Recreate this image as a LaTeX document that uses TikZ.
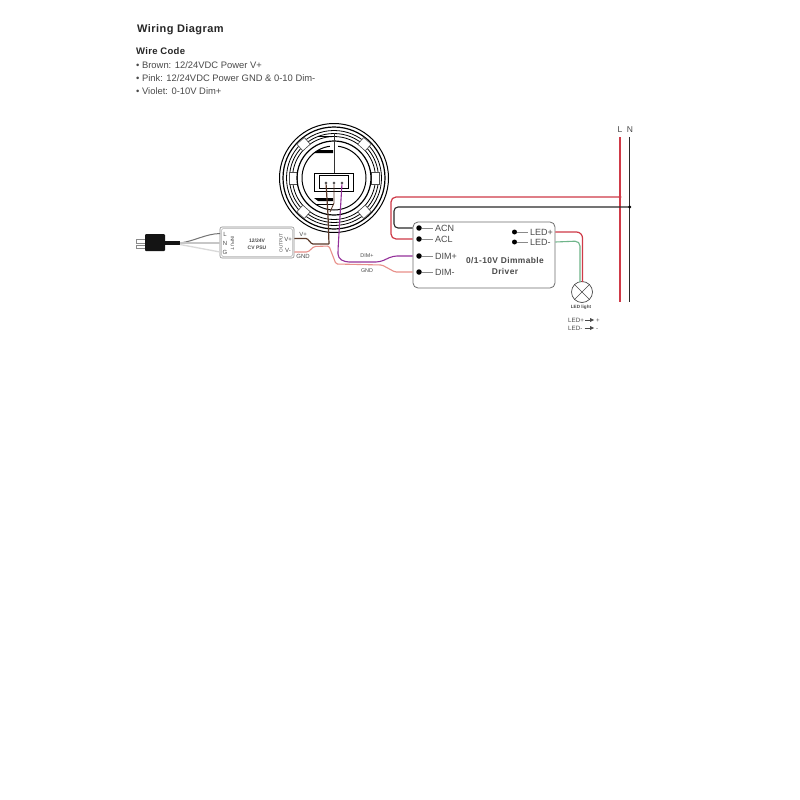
\documentclass[tikz,border=0pt]{standalone}
\usepackage{fontspec}
\setmainfont{Liberation Sans}
\definecolor{wred}{HTML}{CF3A48}
\definecolor{wblack}{HTML}{2A2A2A}
\definecolor{wbrown}{HTML}{5A3828}
\definecolor{wpink}{HTML}{E8908A}
\definecolor{wviolet}{HTML}{94309A}
\definecolor{wgreen}{HTML}{6FB58A}
\definecolor{tgray}{HTML}{4A4A4A}
\definecolor{boxgray}{HTML}{8A8A8A}
\tikzset{
  title/.style={anchor=base west,font=\bfseries\fontsize{11}{13}\selectfont\addfontfeatures{LetterSpace=4},text=black!85,inner sep=0pt},
  codeline/.style={anchor=base west,font=\fontsize{9.4}{11}\selectfont,text=tgray,inner sep=0pt},
  term/.style={circle,fill=black,inner sep=0pt,minimum size=5.5pt},
  termtext/.style={anchor=base west,font=\fontsize{9}{11}\selectfont,text=tgray,inner sep=0pt},
  small/.style={font=\fontsize{6}{7}\selectfont,text=tgray,inner sep=0pt},
  tiny/.style={font=\fontsize{4.6}{5.5}\selectfont,text=tgray,inner sep=0pt},
  lead/.style={draw=boxgray,line width=.6pt,shorten >=2pt},
  ring/.style={draw=black,line width=.8pt},
  wire/.style={line width=1.2pt,rounded corners=3pt},
}
\begin{document}
\begin{tikzpicture}[x=1pt,y=-1pt]
\useasboundingbox (0,0) rectangle (800,800);
\fill[white] (0,0) rectangle (800,800);
% texts
\node[title] (t1) at (137,33) {Wiring Diagram};
\node[title,font=\bfseries\fontsize{9.5}{11}\selectfont\addfontfeatures{LetterSpace=3}] (t2) at (136,55) {Wire Code};
\node[codeline] (c1) at (136,68.5) {• Brown: 12/24VDC Power V+};
\node[codeline] (c2) at (136,81.5) {• Pink: 12/24VDC Power GND \& 0-10 Dim-};
\node[codeline] (c3) at (136,94.5) {• Violet: 0-10V Dim+};
% device rings
\coordinate (cc) at (334,178);
\draw[line width=1pt] (cc) circle (54.5);
\draw[line width=1.2pt] (cc) circle (51);
\draw[ring] (cc) circle (47.5);
\draw[ring] (cc) circle (44.5);
\draw[ring] (cc) circle (41.5);
\foreach \a in {48,132,228,312}{
  \begin{scope}[shift={(cc)},rotate=\a]
    \draw[fill=white,draw=black!70,line width=.6pt] (41,-5) rectangle (50,5);
  \end{scope}}
\foreach \a in {0,180}{
  \begin{scope}[shift={(cc)},rotate=\a]
    \draw[fill=white,draw=black!70,line width=.6pt] (37,-6) rectangle (45,6);
  \end{scope}}
\draw[line width=1.2pt] (cc) circle (37);
\draw[line width=1pt] (cc) circle (32);
\fill[white] (330,142) rectangle (338,172);
\fill[black] (318,150) -- (333,150) -- (333,153) -- (314,153) -- cycle;
\fill[black] (314,198) -- (333,198) -- (333,201) -- (318,201) -- cycle;
\draw[line width=.7pt] (318,136.5) -- (334,136.5);
\draw[line width=.7pt] (316,204) -- (334,204);
% connector
\node[draw=black,fill=white,line width=.8pt,minimum width=39pt,minimum height=18pt,inner sep=0pt] (conn) at (333.5,182) {};
\node[draw=black,fill=white,line width=.8pt,minimum width=29pt,minimum height=13pt,inner sep=0pt] (conn2) at (333.5,181.5) {};
\coordinate (top) at (334,133);
\draw[line width=.7pt,black!80] (top) -- (conn.north -| top);
\node[circle,draw=black,line width=.4pt,inner sep=0pt,minimum size=2.4pt] (p1) at (326,183) {};
\node[circle,draw=black,line width=.4pt,inner sep=0pt,minimum size=2.4pt] (p2) at (334,183) {};
\node[circle,draw=black,line width=.4pt,inner sep=0pt,minimum size=2.4pt] (p3) at (342,183) {};
% PSU
\node[draw=boxgray,rounded corners=2pt,line width=.6pt,minimum width=74pt,minimum height=31pt,inner sep=0pt] (psu) at (257,242.5) {};
\node[draw=black!30,rounded corners=1.5pt,line width=.5pt,minimum width=71pt,minimum height=28pt,inner sep=0pt] (psu2) at (257,242.5) {};
\node[small] (pl) at (225,234) {L};
\node[small] (pn) at (225,243) {N};
\node[small] (pg) at (225,252) {G};
\node[tiny,rotate=-90] (inp) at (232.5,243) {INPUT};
\node[font=\bfseries\fontsize{5}{6}\selectfont,text=tgray,align=center,inner sep=0pt] (pt) at (257,244) {12/24V\\[.5pt]CV PSU};
\node[tiny,rotate=90] (out) at (281,243) {OUTPUT};
\node[small] (vp) at (288,239) {V+};
\node[small] (vm) at (288,250) {V-};
\node[small] (lvp) at (303,234.5) {V+};
\node[small] (lgnd) at (303,256.5) {GND};
% plug
\draw[draw=boxgray,line width=.7pt] (145,239) -- (136.5,239) -- (136.5,243) -- (145,243);
\draw[draw=boxgray,line width=.7pt] (145,245) -- (136.5,245) -- (136.5,248) -- (145,248);
\node[fill=black!92,rounded corners=1pt,minimum width=20pt,minimum height=17pt,inner sep=0pt] (plug) at (155,242.5) {};
\coordinate (cabend) at (180,243);
\draw[line width=4.5pt,black!92] (plug.east |- cabend) -- (cabend);
\coordinate (wl) at (220,233.5);
\coordinate (wn) at (220,243);
\coordinate (wg) at (220,252);
\draw[line width=1pt,black!55] (cabend) .. controls (195,241) and (205,234) .. (wl);
\draw[line width=1.5pt,black!22] (cabend) -- (wn);
\draw[line width=1.3pt,black!15] (180,244.5) -- (wg);
% driver
\node[draw=boxgray!80!black,rounded corners=5pt,line width=.8pt,minimum width=142pt,minimum height=66pt,inner sep=0pt] (drv) at (484,255) {};
\node[font=\bfseries\fontsize{8.4}{11}\selectfont\addfontfeatures{LetterSpace=5},text=tgray,align=center,inner sep=0pt] (dt) at (505,266) {0/1-10V Dimmable\\Driver};
\node[term] (acn) at (419,228) {};
\node[term] (acl) at (419,239) {};
\node[term] (dimp) at (419,256) {};
\node[term] (dimm) at (419,272) {};
\node[termtext] (tacn) at (435,231.5) {ACN};
\node[termtext] (tacl) at (435,242.5) {ACL};
\node[termtext] (tdimp) at (435,259) {DIM+};
\node[termtext] (tdimm) at (435,275) {DIM-};
\foreach \a/\b in {acn/tacn,acl/tacl,dimp/tdimp,dimm/tdimm}{\draw[lead] (\a) -- (\b.west |- \a);}
\node[term,minimum size=5pt] (lp) at (514.5,232) {};
\node[term,minimum size=5pt] (lm) at (514.5,242) {};
\node[termtext,anchor=base west] (tlp) at (530,235.5) {LED+};
\node[termtext,anchor=base west] (tlm) at (530,245.5) {LED-};
\foreach \a/\b in {lp/tlp,lm/tlm}{\draw[lead] (\a) -- (\b.west |- \a);}
% mains
\node[font=\fontsize{8.5}{10}\selectfont,text=tgray,inner sep=0pt] (L) at (620,130) {L};
\node[font=\fontsize{8.5}{10}\selectfont,text=tgray,inner sep=0pt] (N) at (630,130) {N};
\coordinate (lend) at (620,302);
\coordinate (nend) at (629.7,302);
\draw[line width=1.4pt,wred] (620,137) -- (lend);
\draw[line width=1.1pt,wblack] (629.7,137) -- (nend);
\coordinate (jl) at (620,197);
\coordinate (jn) at (629.7,207);
\draw[wire,wred,rounded corners=5pt] (jl) -- (391,197) -- (391,239) -- (acl.west -| drv.west);
\draw[wire,wblack,line width=1.1pt,rounded corners=4pt] (jn) -- (394,207) -- (394,228) -- (acn.west -| drv.west);
\fill[wred] (jl) circle (1.5);
\fill[black] (jn) circle (1.7);
% LED
\node[circle,draw=tgray,line width=.7pt,minimum size=21pt,inner sep=0pt] (lamp) at (582,292) {};
\draw[line width=.6pt,tgray] (lamp.north west) -- (lamp.south east);
\draw[line width=.6pt,tgray] (lamp.north east) -- (lamp.south west);
\draw[wire,wgreen,line width=1.1pt,rounded corners=5pt] (drv.east |- lm) -- (580,241) -- (580,282);
\draw[wire,wred,rounded corners=6pt] (drv.east |- lp) -- (582.5,232) -- (582.5,282);
\node[font=\bfseries\fontsize{4.6}{5.5}\selectfont,text=tgray,inner sep=0pt] (ll) at (581,307) {LED light};
\node[small,anchor=base west,font=\fontsize{6.2}{7}\selectfont] (k1) at (568,322) {LED+};
\node[small,anchor=base west,font=\fontsize{6.2}{7}\selectfont] (k2) at (568,330) {LED-};
\node[small,anchor=base west,font=\fontsize{6.2}{7}\selectfont] (k3) at (596,322) {+};
\node[small,anchor=base west,font=\fontsize{6.2}{7}\selectfont] (k4) at (596,330) {-};
\draw[line width=.4pt,tgray] (k1.east |- 0,320) ++(1,0) -- (591,320);
\draw[line width=.4pt,tgray] (k2.east |- 0,328) ++(2,0) -- (591,328);
\fill[tgray] (590,318) -- (594,320) -- (590,322) -- cycle;
\fill[tgray] (590,326) -- (594,328) -- (590,330) -- cycle;
% low-voltage wires
\coordinate (jbr) at (329,244);
\draw[wpink,line width=1.1pt,rounded corners=1.5pt] (psu.east |- 0,252) -- (308,252) -- (314,246.5) -- (329,246) -- (336,264) -- (382,265) -- (395,272) -- (dimm.west -| drv.west);
\draw[wviolet,line width=1.1pt,rounded corners=4pt] (p3) -- (338,250) -- (338,258) -- (345,262) -- (380,262) -- (393,256) -- (dimp.west -| drv.west);
\draw[wbrown,line width=1.2pt,rounded corners=1pt] (psu.east |- 0,238.5) -- (307,238.5) -- (312,244) -- (jbr);
\draw[wbrown,line width=1.2pt] (p1) -- (328,215) -- (jbr);
\draw[wbrown,line width=.9pt] (p2) -- (334,203) -- (330,212);
\node[small,font=\fontsize{5.4}{6.5}\selectfont] (ld) at (367,256) {DIM+};
\node[small,font=\fontsize{5.4}{6.5}\selectfont] (lg) at (367,271) {GND};
\end{tikzpicture}
\end{document}
